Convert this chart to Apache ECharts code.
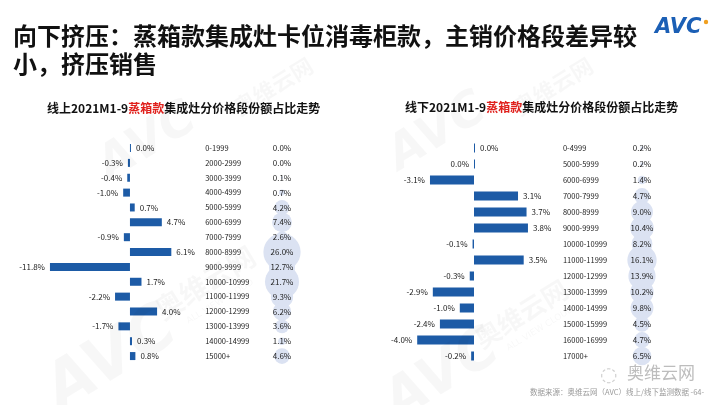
<!DOCTYPE html>
<html><head><meta charset="utf-8">
<script src="https://cdn.jsdelivr.net/npm/echarts@6/dist/echarts.min.js"></script>
<style>html,body{margin:0;padding:0;background:#fff}#c{width:720px;height:405px}</style>
</head><body><div id="c"></div>
<script>
// ---- data ----
const leftPrices = ['0-1999','2000-2999','3000-3999','4000-4999','5000-5999','6000-6999','7000-7999','8000-8999','9000-9999','10000-10999','11000-11999','12000-12999','13000-13999','14000-14999','15000+'];
const leftChange = [0.0,-0.3,-0.4,-1.0,0.7,4.7,-0.9,6.1,-11.8,1.7,-2.2,4.0,-1.7,0.3,0.8];
const leftShare  = [0.0,0.0,0.1,0.7,4.2,7.4,2.6,26.0,12.7,21.7,9.3,6.2,3.6,1.1,4.6];

const rightPrices = ['0-4999','5000-5999','6000-6999','7000-7999','8000-8999','9000-9999','10000-10999','11000-11999','12000-12999','13000-13999','14000-14999','15000-15999','16000-16999','17000+'];
const rightChange = [0.0,-0.0,-3.1,3.1,3.7,3.8,-0.1,3.5,-0.3,-2.9,-1.0,-2.4,-4.0,-0.2];
const rightShare  = [0.2,0.2,1.4,4.7,9.0,10.4,8.2,16.1,13.9,10.2,9.8,4.5,4.7,6.5];

const FONT = '"Noto Sans CJK SC","Noto Sans",sans-serif';
const BAR = '#1d5ba6';
const BUB = '#dbe2f2';

function isNeg(v){ return v < 0 || Object.is(v, -0); }
function barData(vals){
  return vals.map(v => ({ value: v, label: { position: isNeg(v) ? 'left' : 'right' } }));
}
function fmtChange(p){ const v = p.value; return (v < 0 ? '-' : '') + Math.abs(v).toFixed(1) + '%'; }
function bubbleData(prices, shares){ return shares.map((v, i) => ['share', prices[i], v]); }

const chart = echarts.init(document.getElementById('c'));

function priceAxis(grid, data, margin){
  return { gridIndex: grid, type: 'category', data: data, inverse: true, position: 'right',
    axisLine: { show: false }, axisTick: { show: false }, splitLine: { show: false },
    axisLabel: { margin: margin, fontSize: 7.5, color: '#222', fontFamily: FONT } };
}
function hiddenCat(grid, data){ return { gridIndex: grid, type: 'category', data: data, inverse: true, show: false }; }

function barSeries(xi, yi, vals, w){
  return { type: 'bar', xAxisIndex: xi, yAxisIndex: yi, data: barData(vals), barWidth: w, barMinHeight: 1,
    itemStyle: { color: BAR }, silent: true,
    label: { show: true, distance: 5, fontSize: 8, color: '#222', fontFamily: FONT, formatter: fmtChange } };
}
function bubbleSeries(xi, yi, prices, shares){
  return { type: 'scatter', xAxisIndex: xi, yAxisIndex: yi, data: bubbleData(prices, shares), silent: true,
    symbolSize: d => d[2] > 0 ? 7.3 * Math.sqrt(d[2]) : 0.1,
    itemStyle: { color: BUB, opacity: 1 },
    label: { show: true, position: 'inside', fontSize: 8, color: '#222', fontFamily: FONT,
      formatter: p => p.value[2].toFixed(1) + '%' } };
}

const wm = 'rgba(0,0,0,0.03)';
chart.setOption({
  animation: false,
  backgroundColor: '#fff',
  title: [
    { text: '向下挤压：蒸箱款集成灶卡位消毒柜款，主销价格段差异较\n小，挤压销售', left: 13, top: 22, padding: 0,
      textStyle: { fontSize: 24, fontWeight: 'bold', color: '#111', lineHeight: 28, fontFamily: FONT } },
    { text: 'AVC', left: 655, top: 17, padding: 0,
      textStyle: { fontSize: 21, fontWeight: 900, fontStyle: 'italic', color: '#1b5fb5', fontFamily: '"DejaVu Sans",sans-serif' } },
    { text: '{a|线上2021M1-9}{r|蒸箱款}{a|集成灶分价格段份额占比走势}', left: 47, top: 102, padding: 0,
      textStyle: { rich: { a: { fontSize: 12, fontWeight: 'bold', color: '#111', fontFamily: FONT },
                           r: { fontSize: 12, fontWeight: 'bold', color: '#e0201c', fontFamily: FONT } } } },
    { text: '{a|线下2021M1-9}{r|蒸箱款}{a|集成灶分价格段份额占比走势}', left: 405, top: 101, padding: 0,
      textStyle: { rich: { a: { fontSize: 12, fontWeight: 'bold', color: '#111', fontFamily: FONT },
                           r: { fontSize: 12, fontWeight: 'bold', color: '#e0201c', fontFamily: FONT } } } },
    { text: '奥维云网', left: 627, top: 364, padding: 0,
      textStyle: { fontSize: 17, fontWeight: 'normal', color: '#bdbdbd', fontFamily: FONT } },
    { text: '数据来源：奥维云网（AVC）线上/线下监测数据 -64-', left: 530, top: 388, padding: 0,
      textStyle: { fontSize: 7.5, fontWeight: 'normal', color: '#9a9a9a', fontFamily: FONT } }
  ],
  graphic: [
    { type: 'circle', shape: { cx: 706, cy: 22, r: 2.2 }, style: { fill: '#f0a020' } },
    { type: 'text', x: 600, y: 366, style: { text: '◌', font: '20px "DejaVu Sans"', fill: '#cfcfcf' } },
    { type: 'text', x: 35, y: 370, rotation: 0.55, z: 10, style: { text: 'AVC', font: 'italic 900 64px "DejaVu Sans"', fill: wm } },
    { type: 'text', x: 150, y: 300, rotation: 0.55, z: 10, style: { text: '奥维云网', font: 'bold 28px "Noto Sans CJK SC"', fill: wm } },
    { type: 'text', x: 185, y: 318, rotation: 0.55, z: 10, style: { text: 'ALL VIEW CLOUD', font: '9px "DejaVu Sans"', fill: wm } },
    { type: 'text', x: 375, y: 385, rotation: 0.55, z: 10, style: { text: 'AVC', font: 'italic 900 56px "DejaVu Sans"', fill: wm } },
    { type: 'text', x: 470, y: 330, rotation: 0.55, z: 10, style: { text: '奥维云网', font: 'bold 26px "Noto Sans CJK SC"', fill: wm } },
    { type: 'text', x: 505, y: 345, rotation: 0.55, z: 10, style: { text: 'ALL VIEW CLOUD', font: '9px "DejaVu Sans"', fill: wm } },
    { type: 'text', x: 90, y: 150, rotation: 0.55, z: 10, style: { text: 'AVC', font: 'italic 900 48px "DejaVu Sans"', fill: wm } },
    { type: 'text', x: 230, y: 100, rotation: 0.55, z: 10, style: { text: '奥维云网', font: 'bold 22px "Noto Sans CJK SC"', fill: wm } },
    { type: 'text', x: 380, y: 140, rotation: 0.55, z: 10, style: { text: 'AVC', font: 'italic 900 48px "DejaVu Sans"', fill: wm } },
    { type: 'text', x: 510, y: 100, rotation: 0.55, z: 10, style: { text: '奥维云网', font: 'bold 22px "Noto Sans CJK SC"', fill: wm } }
  ],
  grid: [
    { left: 48.6, top: 140.6, width: 135.6, height: 222.9 },
    { left: 262, top: 140.6, width: 40, height: 222.9 },
    { left: 410.1, top: 140, width: 127.8, height: 224 },
    { left: 622, top: 140, width: 40, height: 224 }
  ],
  xAxis: [
    { gridIndex: 0, type: 'value', min: -12, max: 8, show: false },
    { gridIndex: 1, type: 'category', data: ['share'], show: false },
    { gridIndex: 2, type: 'value', min: -4.5, max: 4.5, show: false },
    { gridIndex: 3, type: 'category', data: ['share'], show: false }
  ],
  yAxis: [
    priceAxis(0, leftPrices, 21),
    hiddenCat(1, leftPrices),
    priceAxis(2, rightPrices, 25),
    hiddenCat(3, rightPrices)
  ],
  series: [
    bubbleSeries(1, 1, leftPrices, leftShare),
    barSeries(0, 0, leftChange, 8),
    bubbleSeries(3, 3, rightPrices, rightShare),
    barSeries(2, 2, rightChange, 9)
  ]
});
</script></body></html>
